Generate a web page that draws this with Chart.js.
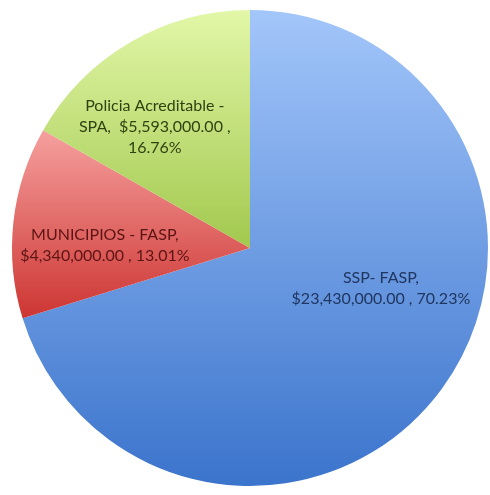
<!DOCTYPE html>
<html>
<head>
<meta charset="utf-8">
<script src="https://cdn.jsdelivr.net/npm/chart.js@4.4.1/dist/chart.umd.min.js"></script>
<style>
  html, body { margin: 0; padding: 0; background: #fff; }
  #wrap { width: 490px; height: 495px; }
</style>
</head>
<body>
<div id="wrap"><canvas id="myChart" width="490" height="495"></canvas></div>
<script>
"use strict";

// data for the pie
let categories = ["SSP- FASP", "MUNICIPIOS - FASP", "Policia Acreditable - SPA"];
let amounts = [23430000, 4340000, 5593000];

// how the names get split onto lines in the labels
let nameLines = [["SSP- FASP,"], ["MUNICIPIOS - FASP,"], ["Policia Acreditable -", "SPA, "]];

// gradient colours (top, bottom) for each slice
let topColors = ["#a3c6fa", "#f5a09e", "#e2f7a8"];
let bottomColors = ["#3b74cc", "#cd3532", "#a2c84e"];
let textColors = ["#1f3660", "#5c1414", "#2f4210"];

// label spot as a fraction of the radius from the centre
let labelSpots = [[0.55, 0.17], [-0.61, -0.01], [-0.40, -0.51]];

let total = amounts.reduce((a, b) => a + b, 0);

function money(v) {
    return "$" + v.toLocaleString("en-US", { minimumFractionDigits: 2, maximumFractionDigits: 2 });
}

function pct(v) {
    return (v / total * 100).toFixed(2) + "%";
}

function labelFor(i) {
    let lines = nameLines[i].slice();
    if (i === 2) {
        lines[1] = lines[1] + " " + money(amounts[i]) + " ,";
        lines.push(pct(amounts[i]));
    } else {
        lines.push(money(amounts[i]) + " , " + pct(amounts[i]));
    }
    return lines;
}

function sliceGradient(context) {
    let chart = context.chart;
    let area = chart.chartArea;
    let i = context.dataIndex;
    if (!area || !isFinite(area.top)) return topColors[i];
    // work out the slice from the chart area and the data
    let cy = (area.top + area.bottom) / 2;
    let r = Math.min(area.right - area.left, area.bottom - area.top) / 2;
    let before = amounts.slice(0, i).reduce((a, b) => a + b, 0);
    let a0 = -Math.PI / 2 + before / total * Math.PI * 2;
    let a1 = a0 + amounts[i] / total * Math.PI * 2;
    let ys = [cy];
    for (let a = a0; a <= a1; a += 0.02) ys.push(cy + r * Math.sin(a));
    ys.push(cy + r * Math.sin(a1));
    let y0 = Math.min(...ys), y1 = Math.max(...ys);
    let g = chart.ctx.createLinearGradient(0, y0, 0, y1);
    g.addColorStop(0, topColors[i]);
    g.addColorStop(1, bottomColors[i]);
    return g;
}

// draws the data labels inside the slices
let sliceLabels = {
    id: "sliceLabels",
    afterDatasetsDraw(chart) {
        let ctx = chart.ctx;
        let meta = chart.getDatasetMeta(0);
        ctx.save();
        ctx.font = "16px Lato, 'Open Sans', sans-serif";
        ctx.textAlign = "center";
        ctx.textBaseline = "middle";
        meta.data.forEach((arc, i) => {
            let lines = labelFor(i);
            let x = arc.x + arc.outerRadius * labelSpots[i][0];
            let y = arc.y + arc.outerRadius * labelSpots[i][1];
            let lh = 21;
            let startY = y - (lines.length - 1) * lh / 2;
            ctx.fillStyle = textColors[i];
            lines.forEach((line, j) => {
                ctx.fillText(line, x, startY + j * lh);
            });
        });
        ctx.restore();
    }
};

const ctx = document.getElementById("myChart");

new Chart(ctx, {
    type: "pie",
    data: {
        labels: categories,
        datasets: [{
            data: amounts,
            backgroundColor: sliceGradient,
            borderWidth: 0
        }]
    },
    options: {
        responsive: false,
        animation: false,
        layout: {
            padding: { top: 10, bottom: 9, left: 12, right: 2 }
        },
        plugins: {
            legend: { display: false },
            tooltip: { enabled: false }
        }
    },
    plugins: [sliceLabels]
});
</script>
</body>
</html>
